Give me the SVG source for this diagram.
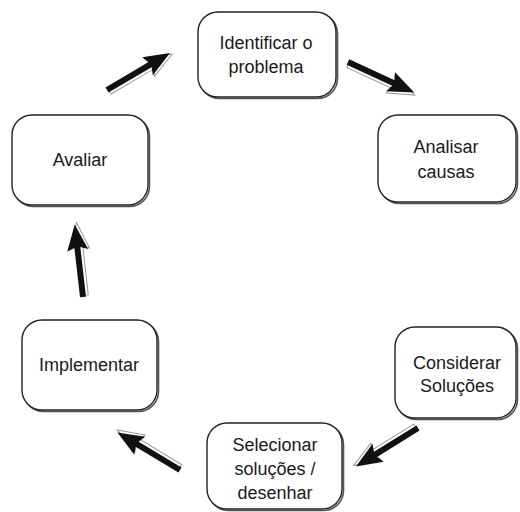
<svg xmlns="http://www.w3.org/2000/svg" width="520" height="512" viewBox="0 0 520 512">
<style>
.box{fill:#fff;stroke:#222;stroke-width:1.4}
.sh{fill:none;stroke:#555;stroke-width:1.6}
.t{font-family:"Liberation Sans",Arial,sans-serif;font-size:18px;fill:#1a1a1a;text-anchor:middle}
.ah{fill:#111}
.as{fill:#fff;stroke:#999;stroke-width:1}
</style>
<defs>
<g id="arrow">
<polygon class="as" points="1.5,-1.5 50,-1.5 48,-8 74.5,2 48,12 50,5.5 1.5,5.5"/>
<polygon class="ah" points="0,-3 50,-3 47,-10.5 73,0 47,10.5 50,3 0,3"/>
</g>
</defs>
<g id="connectors">
<use href="#arrow" transform="translate(107,90) rotate(-30.4)"/>
<use href="#arrow" transform="translate(348,62) rotate(24.8)"/>
<use href="#arrow" transform="translate(418,428) rotate(148.2)"/>
<use href="#arrow" transform="translate(180,470) rotate(211)"/>
<use href="#arrow" transform="translate(83,297) rotate(263.5)"/>
</g>
<g id="n1">
<rect class="sh" x="199.5" y="13.5" width="138" height="85" rx="20"/>
<rect class="box" x="198" y="12" width="138" height="85" rx="20"/>
<text class="t" x="266" y="49">Identificar o</text>
<text class="t" x="266" y="73">problema</text>
</g>
<g id="n2">
<rect class="sh" x="379.5" y="116.5" width="138" height="87" rx="20"/>
<rect class="box" x="378" y="115" width="138" height="87" rx="20"/>
<text class="t" x="446" y="153">Analisar</text>
<text class="t" x="446" y="178">causas</text>
</g>
<g id="n3">
<rect class="sh" x="13.5" y="116.5" width="136" height="90" rx="20"/>
<rect class="box" x="12" y="115" width="136" height="90" rx="20"/>
<text class="t" x="80" y="166">Avaliar</text>
</g>
<g id="n4">
<rect class="sh" x="23.5" y="321.5" width="135" height="90" rx="20"/>
<rect class="box" x="22" y="320" width="135" height="90" rx="20"/>
<text class="t" x="89" y="371">Implementar</text>
</g>
<g id="n5">
<rect class="sh" x="396.5" y="328.5" width="121" height="91" rx="20"/>
<rect class="box" x="395" y="327" width="121" height="91" rx="20"/>
<text class="t" x="457" y="369">Considerar</text>
<text class="t" x="457" y="392">Soluções</text>
</g>
<g id="n6">
<rect class="sh" x="208.5" y="424.5" width="135" height="86" rx="20"/>
<rect class="box" x="207" y="423" width="135" height="86" rx="20"/>
<text class="t" x="275" y="451">Selecionar</text>
<text class="t" x="275" y="475">soluções /</text>
<text class="t" x="275" y="499">desenhar</text>
</g>
</svg>
